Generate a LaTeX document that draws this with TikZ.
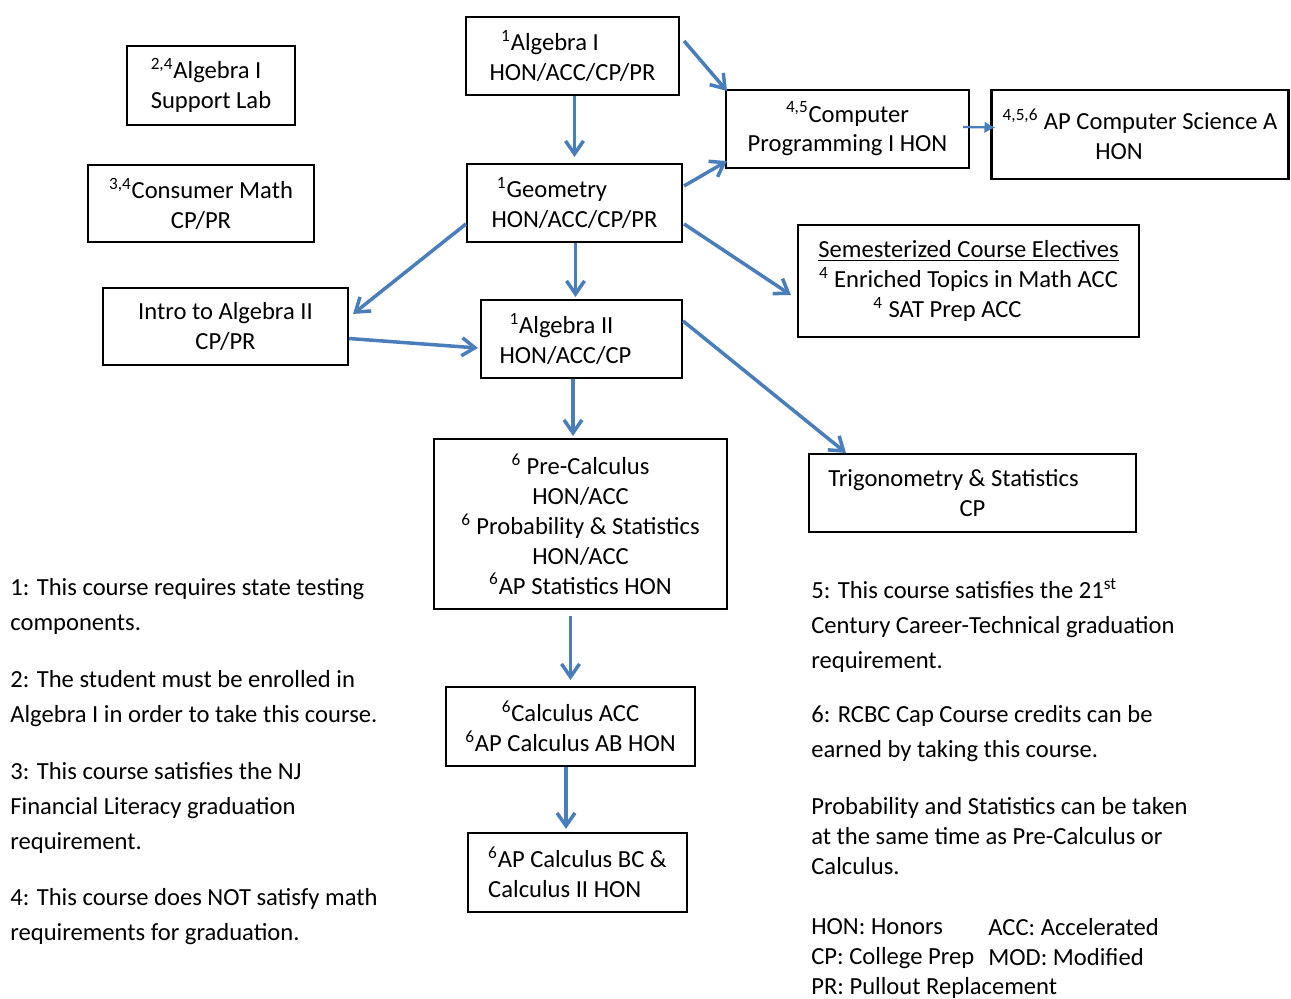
\documentclass[tikz,border=0pt]{standalone}
\usepackage{fontspec}
\setmainfont{Carlito}
\usetikzlibrary{arrows.meta,positioning}
\definecolor{flowblue}{HTML}{4A7EBB}

\begin{document}
\begin{tikzpicture}[x=0.02cm,y=-0.02cm,every node/.style={font=\fontsize{14}{17}\selectfont},course/.style={rectangle,draw=black,line width=1.2pt,align=center,inner sep=0pt,minimum height=1.56cm},note/.style={anchor=north west,align=left,inner sep=0pt,font=\fontsize{14}{19.8}\selectfont},legend/.style={note,font=\fontsize{14}{17}\selectfont},flow/.style={-{Straight Barb[length=0.26cm,width=0.36cm]},flowblue,line width=2pt},thinflow/.style={-{Latex[length=0.22cm,width=0.24cm]},flowblue,line width=1.3pt}]
  \useasboundingbox (0,0) rectangle (1291,998);
  % course boxes
  \node[course,minimum width=4.26cm] (alg1) at (572.5,56) {\textsuperscript{1}Algebra I\hspace*{0.9cm}\\HON/ACC/CP/PR};
  \node[course,minimum width=3.36cm,minimum height=1.58cm,align=left] (sup) at (211,85.5) {\textsuperscript{2,4}Algebra I\\Support Lab};
  \node[course,minimum width=4.52cm,minimum height=1.54cm] (cons) at (201,203.5) {\textsuperscript{3,4}Consumer Math\\CP/PR};
  \node[course,minimum width=4.86cm] (comp) at (847.5,129) {\textsuperscript{4,5}Computer\\Programming I HON};
  \node[course,minimum width=5.94cm,minimum height=1.78cm] (apcs) at (1140,134.5) {\textsuperscript{4,5,6} AP Computer Science A\\HON\hspace*{0.84cm}};
  \node[course,minimum width=4.3cm] (geom) at (574.5,203) {\textsuperscript{1}Geometry\hspace*{0.9cm}\\HON/ACC/CP/PR};
  \node[course,minimum width=6.82cm,minimum height=2.24cm] (elect) at (968.5,281) {\underline{Semesterized Course Electives}\\\textsuperscript{4} Enriched Topics in Math ACC\\\textsuperscript{4} SAT Prep ACC\hspace*{0.84cm}};
  \node[course,minimum width=4.9cm,minimum height=1.54cm] (intro) at (225.5,326.5) {Intro to Algebra II\\CP/PR};
  \node[course,minimum width=4.02cm] (alg2) at (581.5,339) {\textsuperscript{1}Algebra II\hspace*{0.8cm}\\HON/ACC/CP\hspace*{0.64cm}};
  \node[course,minimum width=5.86cm,minimum height=3.4cm] (pre) at (580.5,524) {\textsuperscript{6} Pre-Calculus\\HON/ACC\\\textsuperscript{6} Probability \& Statistics\\HON/ACC\\\textsuperscript{6}AP Statistics HON};
  \node[course,minimum width=6.54cm] (trig) at (972.5,493) {Trigonometry \& Statistics\hspace*{0.76cm}\\CP};
  \node[course,minimum width=4.98cm,minimum height=1.58cm] (calc) at (570.5,726.5) {\textsuperscript{6}Calculus ACC\\\textsuperscript{6}AP Calculus AB HON};
  \node[course,minimum width=4.38cm,minimum height=1.58cm,align=left] (bc) at (577.5,872.5) {\textsuperscript{6}AP Calculus BC \&\\Calculus II HON};
  % arrows
  \draw[flow] (alg1.south -| geom.north) -- ([yshift=0.12cm]geom.north);
  \draw[flow] ([shift={(4,25)}]alg1.north east) -- ([shift={(2,2)}]comp.north west);
  \draw[flow] ([shift={(1,23)}]geom.north east) -- ([shift={(2,-8)}]comp.south west);
  \draw[flow] ([shift={(1,61)}]geom.north east) -- ([shift={(-6,14)}]elect.west);
  \draw[flow] ([shift={(0,61)}]geom.north west) -- ([shift={(4,27)}]intro.north east);
  \draw[flow] ([xshift=0.02cm]geom.south) -- ([xshift=0.02cm,yshift=0.04cm]geom.south |- alg2.north);
  \draw[flow] ([shift={(0,12)}]intro.east) -- ([shift={(-2,9)}]alg2.west);
  \draw[flow] ([xshift=-0.17cm]alg2.south) -- ([xshift=-0.17cm,yshift=0.04cm]alg2.south |- pre.north);
  \draw[flow] ([shift={(0,22)}]alg2.north east) -- ([shift={(38,0)}]trig.north west);
  \draw[flow] ([yshift=-0.12cm]pre.south -| calc.north) -- ([yshift=0.12cm]calc.north);
  \draw[flow] ([xshift=-0.09cm]calc.south) -- ([xshift=-0.09cm,yshift=0.06cm]calc.south |- bc.north);
  \draw[thinflow] ([shift={(-7,-2)}]comp.east) -- ([shift={(5,-7)}]apcs.west);
  % footnotes
  \node[note] (n1) at (10,578) {1: This course requires state testing\\components.};
  \node[note] (n2) at (10,670) {2: The student must be enrolled in\\Algebra I in order to take this course.};
  \node[note] (n3) at (10,762) {3: This course satisfies the NJ\\Financial Literacy graduation\\requirement.};
  \node[note] (n4) at (10,888) {4: This course does NOT satisfy math\\requirements for graduation.};
  \node[note] (n5) at (811,578) {5: This course satisfies the 21\textsuperscript{st}\\Century Career-Technical graduation\\requirement.};
  \node[note] (n6) at (811,705) {6: RCBC Cap Course credits can be\\earned by taking this course.};
  \node[legend] (n7) at (811,797) {Probability and Statistics can be taken\\at the same time as Pre-Calculus or\\Calculus.};
  \node[legend] (key1) at (811,918) {HON: Honors\\CP: College Prep\\PR: Pullout Replacement};
  \node[legend] (key2) at (988,918) {ACC: Accelerated\\MOD: Modified};
\end{tikzpicture}
\end{document}
